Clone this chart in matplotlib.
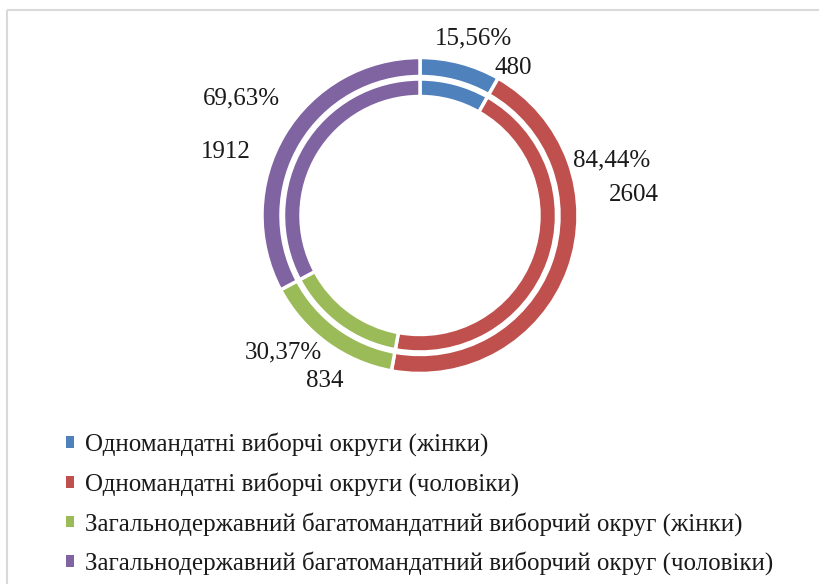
import matplotlib
matplotlib.use('Agg')
from matplotlib import pyplot as plt
from matplotlib.patches import Patch, Rectangle

# Дані
categorias = ['Одномандатні виборчі округи (жінки)',
              'Одномандатні виборчі округи (чоловіки)',
              'Загальнодержавний багатомандатний виборчий округ (жінки)',
              'Загальнодержавний багатомандатний виборчий округ (чоловіки)']
valores = [480, 2604, 834, 1912]
cores = ['#4F81BD', '#C0504D', '#9BBB59', '#8064A2']

# percentuais dentro de cada grupo (одномандатні / загальнодержавний)
grupo_1 = valores[0] + valores[1]
grupo_2 = valores[2] + valores[3]
percentuais = [valores[0] / grupo_1 * 100, valores[1] / grupo_1 * 100,
               valores[2] / grupo_2 * 100, valores[3] / grupo_2 * 100]

plt.rcParams['font.family'] = ['Liberation Serif', 'DejaVu Serif']

W, H = 819, 584
fig = plt.figure(figsize=(W / 100, H / 100), dpi=100)
ax = fig.add_axes([0, 0, 1, 1])

# y em pixels a partir do topo -> coordenada do eixo
def py(y):
    return H - y

centro = (420, py(215.5))
ax.pie(valores, colors=cores, radius=158, center=centro, startangle=90,
       counterclock=False, frame=True,
       wedgeprops=dict(width=19, edgecolor='white', linewidth=2.5))
ax.pie(valores, colors=cores, radius=136.5, center=centro, startangle=90,
       counterclock=False, frame=True,
       wedgeprops=dict(width=17.5, edgecolor='white', linewidth=2.5))
ax.set_xlim(0, W)
ax.set_ylim(0, H)
ax.axis('off')

# rótulos (percentual e valor)
pos_pct = [(473, 38), (612, 160), (283, 352), (241, 98)]
pos_val = [(513, 68), (634, 195), (325, 381), (226, 152)]
for i in range(4):
    ax.text(pos_pct[i][0], py(pos_pct[i][1]), f'{percentuais[i]:.2f}%'.replace('.', ','),
            ha='center', va='center', fontsize=18, color='#1a1a1a')
    ax.text(pos_val[i][0], py(pos_val[i][1]), str(valores[i]),
            ha='center', va='center', fontsize=18, color='#1a1a1a')

# borda
ax.add_patch(Rectangle((7, py(10)), 900, -700, fill=False, edgecolor='#d9d9d9',
                       linewidth=1.5, clip_on=False))

handles = [Patch(facecolor=c, edgecolor='none') for c in cores]
fig.legend(handles, categorias, loc='upper left', bbox_to_anchor=(53 / W, 1 - 420 / H),
           frameon=False, fontsize=18, handlelength=0.34, handleheight=0.34,
           handletextpad=0.45, labelspacing=0.63, borderpad=0, labelcolor='#1a1a1a')

plt.savefig('out.png', dpi=100)
